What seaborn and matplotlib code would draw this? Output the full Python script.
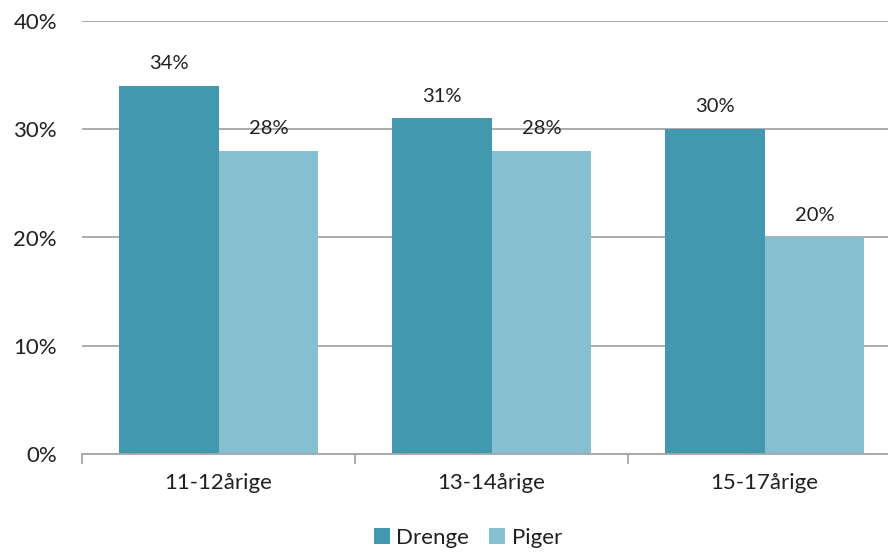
import matplotlib
matplotlib.use("Agg")
import matplotlib.pyplot as plt
import seaborn as sns
import pandas as pd
from matplotlib.ticker import FixedLocator

categories = ["11-12årige", "13-14årige", "15-17årige"]
drenge = [34, 31, 30]
piger = [28, 28, 20]
series_names = ["Drenge", "Piger"]
colors = ["#4198AF", "#86BFD0"]
yticks = [0, 10, 20, 30, 40]

df = pd.DataFrame({
    "Alder": categories * 2,
    "Andel": drenge + piger,
    "Køn": [series_names[0]] * 3 + [series_names[1]] * 3,
})

sns.set_style("white")
plt.rcParams["font.family"] = ["Lato", "DejaVu Sans"]
text_color = "#231F20"
grid_color = "#A6A6A6"

fig = plt.figure(figsize=(8.88, 5.53), dpi=100)
ax = fig.add_axes([82 / 888, 1 - 454 / 553, (901 - 82) / 888, (454 - 21) / 553])

sns.barplot(data=df, x="Alder", y="Andel", hue="Køn", palette=colors,
            width=0.73, saturation=1, linewidth=0, ax=ax, legend=True)

ax.set_xlim(-0.5, 2.5)
ax.set_ylim(0, 40)
ax.set_yticks(yticks)
ax.set_yticklabels([f"{v}%" for v in yticks], fontsize=16, color=text_color)
ax.yaxis.grid(True, color=grid_color, linewidth=1.3)
ax.set_axisbelow(True)
ax.tick_params(axis="y", length=0, pad=18)
ax.tick_params(axis="x", which="major", length=0, pad=14, labelsize=16, labelcolor=text_color)
ax.xaxis.set_minor_locator(FixedLocator([-0.5, 0.5, 1.5, 2.5]))
ax.tick_params(axis="x", which="minor", bottom=True, length=7, width=1.3,
               color=grid_color, direction="out")
for lbl in ax.get_xticklabels():
    lbl.set_color(text_color)

for s in ["top", "right", "left"]:
    ax.spines[s].set_visible(False)
ax.spines["bottom"].set_color(grid_color)
ax.spines["bottom"].set_linewidth(1.3)
ax.set_xlabel("")
ax.set_ylabel("")

for container in ax.containers:
    ax.bar_label(container, labels=[f"{v:.0f}%" for v in container.datavalues],
                 padding=10, fontsize=14.5, color=text_color)

leg = ax.legend(loc="center", bbox_to_anchor=(468 / 888, 1 - 538 / 553),
                bbox_transform=fig.transFigure, ncol=2, frameon=False,
                fontsize=16, handlelength=0.7, handleheight=0.7,
                handletextpad=0.3, columnspacing=0.9)
for t in leg.get_texts():
    t.set_color(text_color)

fig.savefig("out.png", dpi=100)
